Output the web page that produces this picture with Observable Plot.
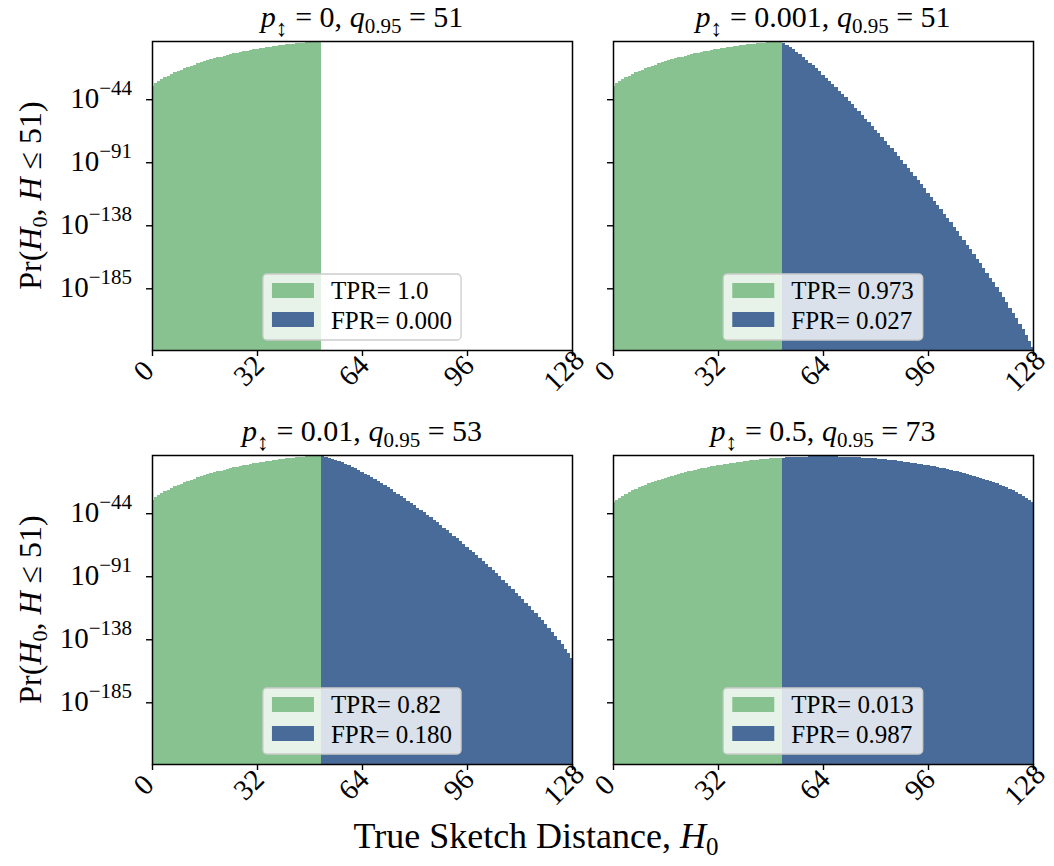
<!DOCTYPE html>
<html>
<head>
<meta charset="utf-8">
<script src="https://cdn.jsdelivr.net/npm/d3@7"></script>
<script src="https://cdn.jsdelivr.net/npm/@observablehq/plot@0.6"></script>
<style>
  html, body { margin: 0; padding: 0; background: #ffffff; }
  #fig { position: relative; width: 1054px; height: 866px; overflow: hidden; background: #ffffff; }
  #fig text { white-space: pre; }
</style>
</head>
<body>
<div id="fig"></div>
<script>
// ---------------- data (log10 of probability) ----------------
const xTicks = [0, 32, 64, 96, 128];
const yTickExponents = [-44, -91, -138, -185];
const firstFprDistance = 52;           // first H0 drawn as FPR (blue)
const flipProbs = ["0", "0.001", "0.01", "0.5"];
const q95 = ["51", "51", "53", "73"];
const tprLabels = ["1.0", "0.973", "0.82", "0.013"];
const fprLabels = ["0.000", "0.027", "0.180", "0.987"];

// H0 = 0 .. 51 (green) for p = 0, 0.001, 0.01
const greenLowFlip = [-34.10,-32.16,-30.50,-29.01,-27.63,-26.35,-25.14,-24.00,-22.92,-21.88,
  -20.89,-19.94,-19.03,-18.16,-17.32,-16.51,-15.73,-14.97,-14.25,-13.54,
  -12.87,-12.21,-11.58,-10.97,-10.38,-9.81,-9.26,-8.73,-8.22,-7.72,
  -7.24,-6.78,-6.34,-5.91,-5.50,-5.11,-4.73,-4.37,-4.02,-3.68,
  -3.36,-3.06,-2.77,-2.49,-2.23,-1.98,-1.74,-1.52,-1.31,-1.12,
  -0.93,-0.76];
// H0 = 0 .. 51 (green) for p = 0.5
const greenHalfFlip = [-35.99,-34.05,-32.39,-30.90,-29.52,-28.24,-27.03,-25.89,-24.81,-23.77,
  -22.78,-21.83,-20.92,-20.05,-19.21,-18.40,-17.62,-16.86,-16.14,-15.43,
  -14.76,-14.10,-13.47,-12.86,-12.27,-11.70,-11.15,-10.62,-10.11,-9.61,
  -9.13,-8.67,-8.23,-7.80,-7.39,-7.00,-6.62,-6.26,-5.91,-5.57,
  -5.25,-4.95,-4.66,-4.38,-4.12,-3.87,-3.63,-3.41,-3.20,-3.01,
  -2.82,-2.65];
// H0 = 52 .. 128 (blue)
const blueP0 = [];
const blueP0001 = [-1.89,-3.32,-4.94,-6.68,-8.53,-10.45,-12.45,-14.52,-16.64,-18.81,
  -21.03,-23.29,-25.59,-27.93,-30.30,-32.71,-35.16,-37.62,-40.13,-42.66,
  -45.22,-47.80,-50.41,-53.05,-55.72,-58.40,-61.10,-63.84,-66.59,-69.37,
  -72.17,-74.99,-77.84,-80.70,-83.59,-86.50,-89.42,-92.37,-95.35,-98.34,
  -101.35,-104.39,-107.44,-110.51,-113.61,-116.73,-119.87,-123.03,-126.22,-129.43,
  -132.66,-135.91,-139.19,-142.49,-145.81,-149.16,-152.54,-155.94,-159.38,-162.83,
  -166.33,-169.85,-173.40,-176.98,-180.60,-184.26,-187.97,-191.71,-195.51,-199.36,
  -203.26,-207.24,-211.29,-215.44,-219.70,-224.14,-228.86];
const blueP001 = [-1.44,-1.87,-2.49,-3.22,-4.07,-4.98,-5.98,-7.04,-8.16,-9.33,
  -10.54,-11.80,-13.09,-14.43,-15.79,-17.20,-18.64,-20.10,-21.61,-23.13,
  -24.69,-26.26,-27.87,-29.50,-31.17,-32.85,-34.54,-36.28,-38.02,-39.80,
  -41.59,-43.41,-45.25,-47.11,-49.00,-50.90,-52.82,-54.76,-56.74,-58.72,
  -60.73,-62.76,-64.81,-66.88,-68.97,-71.09,-73.22,-75.38,-77.56,-79.77,
  -81.99,-84.24,-86.52,-88.81,-91.13,-93.47,-95.85,-98.24,-100.68,-103.13,
  -105.62,-108.14,-110.68,-113.26,-115.87,-118.53,-121.23,-123.97,-126.77,-129.61,
  -132.51,-135.48,-138.53,-141.67,-144.93,-148.36,-152.08];
const blueP05 = [-2.50,-2.35,-2.22,-2.10,-2.00,-1.90,-1.82,-1.75,-1.70,-1.65,
  -1.62,-1.60,-1.60,-1.60,-1.62,-1.65,-1.70,-1.75,-1.82,-1.90,
  -2.00,-2.10,-2.22,-2.35,-2.50,-2.65,-2.82,-3.01,-3.20,-3.41,
  -3.63,-3.87,-4.12,-4.38,-4.66,-4.95,-5.25,-5.57,-5.91,-6.26,
  -6.62,-7.00,-7.39,-7.80,-8.23,-8.67,-9.13,-9.61,-10.11,-10.62,
  -11.15,-11.70,-12.27,-12.86,-13.47,-14.10,-14.76,-15.43,-16.14,-16.86,
  -17.62,-18.40,-19.21,-20.05,-20.92,-21.83,-22.78,-23.77,-24.81,-25.89,
  -27.03,-28.24,-29.52,-30.90,-32.39,-34.05,-35.99];

// ---------------- style ----------------
const FONT = '"Liberation Serif", "DejaVu Serif", serif';
const GREEN = "#88c290";
const BLUE = "#486b99";
const Y_DOMAIN = [-231, -0.6];
const X_DOMAIN = [0, 128];
const PW = 420, PH = 309;
const layout = [{L: 152, T: 41}, {L: 613, T: 41}, {L: 152, T: 455}, {L: 613, T: 455}];

const panels = [
  {green: greenLowFlip, blue: blueP0},
  {green: greenLowFlip, blue: blueP0001},
  {green: greenLowFlip, blue: blueP001},
  {green: greenHalfFlip, blue: blueP05}
];

const figEl = document.getElementById("fig");
const overlay = d3.create("svg")
  .attr("width", 1054).attr("height", 866)
  .style("position", "absolute").style("left", "0px").style("top", "0px")
  .style("pointer-events", "none")
  .style("font-family", FONT)
  .style("overflow", "visible");

panels.forEach((p, i) => {
  const {L, T} = layout[i];
  const rows = [
    ...p.green.map((v, h) => ({h, v, kind: "TPR"})),
    ...p.blue.map((v, k) => ({h: firstFprDistance + k, v, kind: "FPR"}))
  ];
  const chart = Plot.plot({
    width: PW, height: PH,
    marginTop: 0, marginRight: 0, marginBottom: 0, marginLeft: 0,
    style: {overflow: "visible", background: "transparent", fontFamily: FONT, fontSize: "28px", color: "black"},
    x: {domain: X_DOMAIN, label: null},
    y: {domain: Y_DOMAIN, label: null},
    color: {domain: ["TPR", "FPR"], range: [GREEN, BLUE]},
    marks: [
      Plot.rect(rows, {
        x1: d => d.h - 0.5, x2: d => d.h + 0.5,
        y1: Y_DOMAIN[0], y2: "v",
        fill: "kind", clip: true, shapeRendering: "crispEdges"
      }),
      Plot.axisX({ticks: xTicks, tickSize: 6, tickFormat: () => "", anchor: "bottom", strokeWidth: 1.4, label: null}),
      Plot.axisY({ticks: yTickExponents, tickSize: 6, tickFormat: () => "", anchor: "left", strokeWidth: 1.4, label: null}),
      Plot.text(xTicks, {
        x: d => d, text: d => String(d), frameAnchor: "bottom",
        dy: 27, dx: -2, rotate: -45, textAnchor: "middle", fontSize: 29, fill: "black"
      }),
      Plot.frame({stroke: "black", strokeWidth: 1.5})
    ]
  });
  chart.style.position = "absolute";
  chart.style.left = L + "px";
  chart.style.top = T + "px";
  figEl.appendChild(chart);

  const y = chart.scale("y");
  const cx = L + PW / 2;

  // y tick labels (only left column)
  if (i % 2 === 0) {
    yTickExponents.forEach(e => {
      const t = overlay.append("text")
        .attr("x", L - 20).attr("y", T + y.apply(e) + 9)
        .attr("text-anchor", "end").attr("font-size", 29).attr("fill", "black");
      t.append("tspan").text("10");
      t.append("tspan").attr("dy", -13).attr("font-size", 21).text("\u2212" + Math.abs(e));
    });
  }

  // title
  const tt = overlay.append("text")
    .attr("x", cx).attr("y", T - 14).attr("text-anchor", "middle")
    .attr("font-size", 30).attr("fill", "black");
  tt.append("tspan").attr("font-style", "italic").text("p");
  tt.append("tspan").attr("dy", 9).attr("font-size", 24).text("\u2195");
  tt.append("tspan").attr("dy", -9).text(" = " + flipProbs[i] + ", ");
  tt.append("tspan").attr("font-style", "italic").text("q");
  tt.append("tspan").attr("dy", 6).attr("font-size", 21).text("0.95");
  tt.append("tspan").attr("dy", -6).text(" = " + q95[i]);

  // legend
  const g = overlay.append("g");
  const box = g.append("rect");
  const items = [["TPR= " + tprLabels[i], GREEN], ["FPR= " + fprLabels[i], BLUE]];
  const texts = [];
  items.forEach(([label, col], k) => {
    g.append("rect").attr("class", "patch").attr("data-k", k)
      .attr("width", 42).attr("height", 15).attr("fill", col);
    texts.push(g.append("text").attr("font-size", 25).attr("fill", "black").text(label));
  });
  g.node().__items = {box, texts};
  g.node().__pos = {cx, bottom: T + PH - 10};
});

// y label and x label
[195.5, 609.5].forEach(cy => {
  const t = overlay.append("text")
    .attr("transform", `translate(41,${cy}) rotate(-90)`)
    .attr("text-anchor", "middle").attr("font-size", 32).attr("fill", "black");
  t.append("tspan").text("Pr(");
  t.append("tspan").attr("font-style", "italic").text("H");
  t.append("tspan").attr("dy", 6).attr("font-size", 22).text("0");
  t.append("tspan").attr("dy", -6).text(", ");
  t.append("tspan").attr("font-style", "italic").text("H");
  t.append("tspan").text(" \u2264 51)");
});
{
  const t = overlay.append("text")
    .attr("x", 536).attr("y", 848).attr("text-anchor", "middle")
    .attr("font-size", 36).attr("fill", "black");
  t.append("tspan").text("True Sketch Distance, ");
  t.append("tspan").attr("font-style", "italic").text("H");
  t.append("tspan").attr("dy", 7).attr("font-size", 25).text("0");
}

figEl.appendChild(overlay.node());

// lay out legends once text can be measured
overlay.selectAll("g").each(function () {
  const {box, texts} = this.__items;
  const {cx, bottom} = this.__pos;
  const tw = Math.max(...texts.map(t => t.node().getComputedTextLength()));
  const w = 68 + tw + 9, h = 66;
  const x0 = cx - w / 2, y0 = bottom - h;
  box.attr("x", x0).attr("y", y0).attr("width", w).attr("height", h)
    .attr("rx", 4).attr("fill", "white").attr("fill-opacity", 0.8)
    .attr("stroke", "#cccccc").attr("stroke-width", 1.3);
  d3.select(this).selectAll("rect.patch").each(function () {
    const k = +this.getAttribute("data-k");
    d3.select(this).attr("x", x0 + 9).attr("y", y0 + 9 + k * 29);
  });
  texts.forEach((t, k) => t.attr("x", x0 + 68).attr("y", y0 + 25 + k * 29.5));
});
</script>
</body>
</html>
